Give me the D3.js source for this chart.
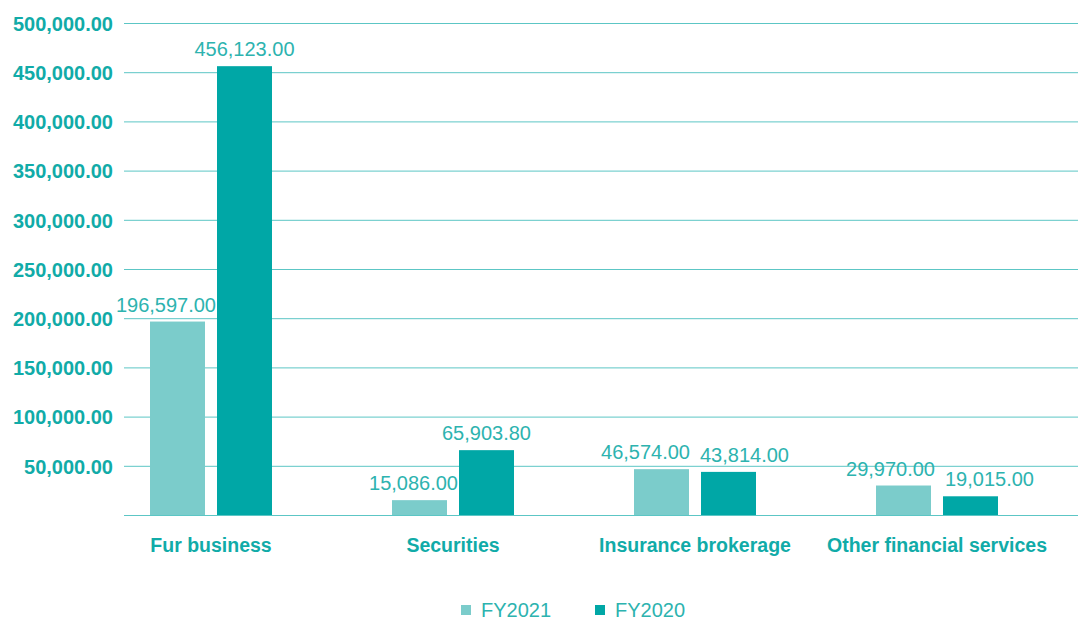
<!DOCTYPE html>
<html>
<head>
<meta charset="utf-8">
<script src="https://cdn.jsdelivr.net/npm/d3@7"></script>
<style>
  body { margin: 0; background: #fff; }
  text { font-family: "Liberation Sans", Arial, sans-serif; }
</style>
</head>
<body>
<svg id="chart" width="1078" height="620"></svg>
<script>
// data
const categories = ['Fur business', 'Securities', 'Insurance brokerage', 'Other financial services'];
const series = ['FY2021', 'FY2020'];
const fy2021 = [196597.00, 15086.00, 46574.00, 29970.00];
const fy2020 = [456123.00, 65903.80, 43814.00, 19015.00];
const yTicks = [50000, 100000, 150000, 200000, 250000, 300000, 350000, 400000, 450000, 500000];

const colors = {FY2021: '#7bcccb', FY2020: '#00a7a6'};
const textColor = '#11aba8';
const labelColor = '#2db3af';
const gridColor = '#5cc6c5';

const svg = d3.select('#chart');
const plot = {left: 124, right: 1078, top: 23, bottom: 515};

const y = d3.scaleLinear().domain([0, 500000]).range([plot.bottom, plot.top]);
const x = d3.scaleBand().domain(categories).range([90, 1058]);
const barW = 55, barGap = 12;
const xs = d3.scaleBand().domain(series).range([0, barW * 2 + barGap]).paddingInner(barGap / (barW + barGap));

const rows = categories.map((c, i) => ({cat: c, FY2021: fy2021[i], FY2020: fy2020[i]}));
const fmt = d3.format(',.2f');

// grid + y labels
const yAxis = d3.axisLeft(y).tickValues(yTicks).tickFormat(fmt)
  .tickSize(-(plot.right - plot.left)).tickPadding(11);
const gy = svg.append('g').attr('transform', `translate(${plot.left},0)`).call(yAxis);
gy.select('.domain').remove();
gy.selectAll('.tick line').attr('stroke', gridColor).attr('stroke-width', 1);
gy.selectAll('.tick text')
  .attr('fill', textColor).attr('font-size', 20).attr('font-weight', 'bold')
  .attr('dy', '0.36em');

// baseline
svg.append('line')
  .attr('x1', plot.left).attr('x2', plot.right)
  .attr('y1', y(0) + 0.5).attr('y2', y(0) + 0.5)
  .attr('stroke', gridColor).attr('stroke-width', 1.2);

// bars
const groups = svg.selectAll('g.grp').data(rows).join('g')
  .attr('class', 'grp')
  .attr('transform', d => `translate(${x(d.cat) + x.bandwidth() / 2 - xs.range()[1] / 2},0)`);

groups.selectAll('rect').data(d => series.map(s => ({s, v: d[s]}))).join('rect')
  .attr('x', d => xs(d.s))
  .attr('width', xs.bandwidth())
  .attr('y', d => y(d.v))
  .attr('height', d => y(0) - y(d.v))
  .attr('fill', d => colors[d.s]);

// value labels, pushed apart inside each pair when they would collide
groups.each(function(d) {
  const g = d3.select(this);
  const items = series.map(s => ({s, v: d[s]}));
  const t = g.selectAll('text.val').data(items).join('text')
    .attr('class', 'val')
    .attr('y', e => y(e.v) - 10)
    .attr('text-anchor', 'middle')
    .attr('fill', labelColor)
    .attr('font-size', 20)
    .text(e => fmt(e.v));
  const w = t.nodes().map(n => n.getComputedTextLength());
  const cx = items.map(e => xs(e.s) + xs.bandwidth() / 2);
  const ly = items.map(e => y(e.v) - 10);
  const top = items.map(e => y(e.v));
  let shiftL = 0, shiftR = 0;
  // left label vs right bar
  if (top[1] < ly[0]) shiftL = Math.max(0, cx[0] + w[0] / 2 - (xs('FY2020') - 1));
  // right label vs left bar
  if (top[0] < ly[1]) shiftR = Math.max(0, xs('FY2021') + xs.bandwidth() + 1 - (cx[1] - w[1] / 2));
  // labels vs each other
  if (Math.abs(ly[0] - ly[1]) < 20) {
    const ov = (cx[0] - shiftL + w[0] / 2 + 10) - (cx[1] + shiftR - w[1] / 2);
    if (ov > 0) { shiftL += ov / 2; shiftR += ov / 2; }
  }
  t.attr('x', (e, i) => cx[i] + (i === 0 ? -shiftL : shiftR));
});

// category labels
svg.append('g').selectAll('text').data(categories).join('text')
  .attr('x', d => x(d) + x.bandwidth() / 2)
  .attr('y', 552)
  .attr('text-anchor', 'middle')
  .attr('fill', textColor)
  .attr('font-size', 19.5)
  .attr('font-weight', 'bold')
  .text(d => d);

// legend
const legend = svg.append('g').attr('transform', 'translate(461,0)');
const legX = d3.scaleOrdinal().domain(series).range([0, 134]);
const li = legend.selectAll('g').data(series).join('g')
  .attr('transform', d => `translate(${legX(d)},0)`);
li.append('rect').attr('x', 0).attr('y', 605).attr('width', 10).attr('height', 10)
  .attr('fill', d => colors[d]);
li.append('text').attr('x', 20).attr('y', 617)
  .attr('fill', labelColor).attr('font-size', 20).text(d => d);
</script>
</body>
</html>
